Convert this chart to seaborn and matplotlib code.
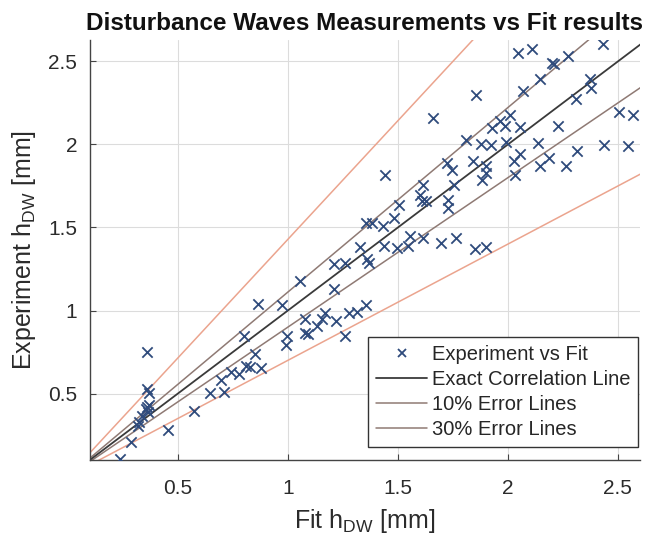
import numpy as np
import pandas as pd
import matplotlib
matplotlib.use("Agg")
import matplotlib.pyplot as plt
import seaborn as sns
from matplotlib.lines import Line2D

fit_x = [0.235, 0.285, 0.318, 0.325, 0.339, 0.354, 0.362, 0.370, 0.366, 0.362, 0.371, 0.362,
         0.457, 0.574, 0.645, 0.708, 0.694, 0.742, 0.777, 0.808, 0.830, 0.852, 0.877, 0.802, 0.863,
         0.974, 1.057, 1.211, 1.261, 1.211, 1.359, 1.367, 0.997, 0.990, 1.080, 1.080, 1.092, 1.133,
         1.155, 1.167, 1.220, 1.276, 1.314, 1.356, 1.258,
         1.661, 1.442, 1.721, 1.747, 1.756, 1.612, 1.600, 1.608, 1.630, 1.728, 1.728, 1.505, 1.484,
         1.356, 1.381, 1.434, 1.326, 1.439, 1.495, 1.548, 1.555, 1.612, 1.695, 1.766,
         1.849, 1.899,
         2.048, 2.110, 2.430, 2.199, 2.211, 2.272, 2.146, 2.372, 2.377, 2.309, 2.068, 1.854, 2.505,
         2.570, 1.962, 1.929, 1.985, 2.010, 2.053, 2.226, 1.811, 1.879, 1.924, 1.992, 2.136, 2.438,
         2.548, 2.312, 2.053, 2.026, 2.185, 2.146, 2.264, 1.842, 1.902, 1.902, 1.884, 2.030]
exp_y = [0.108, 0.210, 0.305, 0.330, 0.366, 0.405, 0.420, 0.430, 0.390, 0.527, 0.503, 0.752,
         0.279, 0.392, 0.503, 0.511, 0.583, 0.628, 0.618, 0.668, 0.662, 0.738, 0.653, 0.845, 1.040,
         1.034, 1.178, 1.278, 1.288, 1.127, 1.312, 1.288, 0.845, 0.795, 0.950, 0.865, 0.859, 0.906,
         0.950, 0.984, 0.934, 0.984, 0.990, 1.034, 0.845,
         2.160, 1.818, 1.888, 1.844, 1.758, 1.758, 1.697, 1.657, 1.657, 1.667, 1.616, 1.633, 1.556,
         1.526, 1.526, 1.510, 1.381, 1.389, 1.375, 1.389, 1.450, 1.435, 1.409, 1.435,
         1.370, 1.381,
         2.549, 2.573, 2.604, 2.492, 2.483, 2.533, 2.392, 2.392, 2.341, 2.271, 2.321, 2.295, 2.195,
         2.175, 2.140, 2.096, 2.114, 2.175, 2.106, 2.114, 2.025, 2.005, 1.999, 2.013, 2.009, 1.999,
         1.989, 1.963, 1.943, 1.899, 1.918, 1.868, 1.868, 1.899, 1.868, 1.828, 1.784, 1.818]

line_names = ["Exact", "10% up", "10% low", "30% up", "30% low"]
line_slopes = [1.0, 1 / 0.9, 0.9, 1 / 0.7, 0.7]
line_x_ends = [0.0, 3.0]

x_ticks = [0.5, 1, 1.5, 2, 2.5]
y_ticks = [0.5, 1, 1.5, 2, 2.5]
x_tick_labels = ["0.5", "1", "1.5", "2", "2.5"]
y_tick_labels = ["0.5", "1", "1.5", "2", "2.5"]

legend_labels = ["Experiment vs Fit", "Exact Correlation Line", "10% Error Lines", "30% Error Lines"]

sns.set_theme(style="white")
plt.rcParams["font.family"] = ["Liberation Sans", "DejaVu Sans"]
plt.rcParams["mathtext.default"] = "regular"

fig = plt.figure(figsize=(6.51, 5.38), dpi=100)
ax = fig.add_axes([0.138, 0.145, 0.845, 0.781])

c_marker = "#2f4b7c"
c_exact = "#3a3a3a"
c_10 = "#8f7a74"
c_30 = "#eba48e"
line_colors = {"Exact": c_exact, "10% up": c_10, "10% low": c_10, "30% up": c_30, "30% low": c_30}

rows = []
for n, s in zip(line_names, line_slopes):
    for xv in line_x_ends:
        rows.append({"name": n, "x": xv, "y": s * xv})
lines_df = pd.DataFrame(rows)

for n in ["30% up", "30% low", "10% up", "10% low", "Exact"]:
    sub = lines_df[lines_df["name"] == n]
    sns.lineplot(data=sub, x="x", y="y", ax=ax, color=line_colors[n],
                 linewidth=1.3 if n == "Exact" else 1.1, legend=False, zorder=2)

pts = pd.DataFrame({"fit": fit_x, "exp": exp_y})
sns.scatterplot(data=pts, x="fit", y="exp", ax=ax, marker="x", color=c_marker,
                s=55, linewidth=1.3, legend=False, zorder=3)

ax.set_xlim(0.1, 2.6)
ax.set_ylim(0.1, 2.63)
ax.set_xticks(x_ticks)
ax.set_xticklabels(x_tick_labels)
ax.set_yticks(y_ticks)
ax.set_yticklabels(y_tick_labels)
ax.grid(True, color="#dcdcdc", linewidth=0.8)
ax.set_axisbelow(True)
for sp in ["top", "right"]:
    ax.spines[sp].set_visible(False)
for sp in ["left", "bottom"]:
    ax.spines[sp].set_color("#444444")
    ax.spines[sp].set_linewidth(1.0)
ax.tick_params(axis="y", direction="in", length=4, width=0.8, color="#444444",
               labelsize=15, labelcolor="#2b2b2b", pad=9, left=True)
ax.tick_params(axis="x", direction="in", length=4, width=0.8, color="#444444",
               labelsize=15, labelcolor="#2b2b2b", pad=14, bottom=True)

ax.set_xlabel(r"Fit h$_{DW}$ [mm]", fontsize=18, color="#2b2b2b", labelpad=6)
ax.set_ylabel(r"Experiment h$_{DW}$ [mm]", fontsize=18, color="#2b2b2b", labelpad=7)
ax.set_title("Disturbance Waves Measurements vs Fit results", fontsize=17.5,
             fontweight="bold", color="#111111", pad=7)

handles = [
    Line2D([], [], linestyle="none", marker="x", color=c_marker, markersize=6, markeredgewidth=1.3),
    Line2D([], [], color=c_exact, linewidth=1.3),
    Line2D([], [], color=c_10, linewidth=1.1),
    Line2D([], [], color=c_10, linewidth=1.1),
]
leg = ax.legend(handles, legend_labels, loc="lower right", bbox_to_anchor=(0.997, 0.03),
                fontsize=14.5, frameon=True, fancybox=False, framealpha=1,
                edgecolor="#333333", handlelength=2.5, handletextpad=0.25,
                borderpad=0.4, labelspacing=0.3, borderaxespad=0)
leg.get_frame().set_linewidth(1.0)

fig.savefig("out.png", dpi=100)
